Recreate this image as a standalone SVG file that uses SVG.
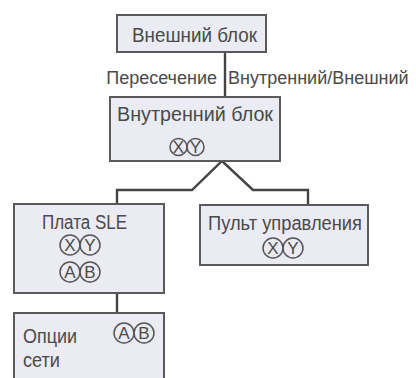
<svg xmlns="http://www.w3.org/2000/svg" width="416" height="378" viewBox="0 0 416 378">
<style>
.box{fill:#ebebf3;stroke:#5a5a5a;stroke-width:2}
.t{font-family:"Liberation Sans",Arial,sans-serif;font-size:20px;fill:#4a4a4a}
.lbl{font-family:"Liberation Sans",Arial,sans-serif;font-size:18px;fill:#4a4a4a}
.c{fill:none;stroke:#555;stroke-width:1.5}
.cl{font-family:"Liberation Sans",Arial,sans-serif;font-size:17px;fill:#4a4a4a;text-anchor:middle}
.conn{fill:none;stroke:#444;stroke-width:2.4}
</style>
<rect width="416" height="378" fill="#fff"/>
<g id="connectors">
<path class="conn" d="M225,52 V97"/>
<path class="conn" d="M117,204 V190 H192 L222,161 L253,190 H308 V205"/>
<path class="conn" d="M117,293 V313"/>
</g>
<text class="lbl"><tspan x="222" y="84" text-anchor="end">Пересечение</tspan> <tspan x="228" y="84">Внутренний/Внешний</tspan></text>
<g id="outer">
<rect class="box" x="117" y="15" width="149" height="37"/>
<text class="t" x="132" y="42" textLength="125" lengthAdjust="spacingAndGlyphs">Внешний блок</text>
</g>
<g id="inner">
<rect class="box" x="110" y="97" width="170" height="64"/>
<text class="t" x="117" y="121" textLength="156" lengthAdjust="spacingAndGlyphs">Внутренний блок</text>
<circle class="c" cx="178.5" cy="147" r="8.5"/><text class="cl" x="178.5" y="153">X</text>
<circle class="c" cx="195.5" cy="147" r="8.5"/><text class="cl" x="195.5" y="153">Y</text>
</g>
<g id="sle">
<rect class="box" x="14" y="204" width="150" height="89"/>
<text class="t" x="42" y="229" textLength="85" lengthAdjust="spacingAndGlyphs">Плата SLE</text>
<circle class="c" cx="70" cy="245" r="10"/><text class="cl" x="70" y="251">X</text>
<circle class="c" cx="90" cy="245" r="10"/><text class="cl" x="90" y="251">Y</text>
<circle class="c" cx="70" cy="272" r="10"/><text class="cl" x="70" y="278">A</text>
<circle class="c" cx="90" cy="272" r="10"/><text class="cl" x="90" y="278">B</text>
</g>
<g id="panel">
<rect class="box" x="200" y="205" width="168" height="60"/>
<text class="t" x="208" y="230" textLength="154" lengthAdjust="spacingAndGlyphs">Пульт управления</text>
<circle class="c" cx="273" cy="248" r="10"/><text class="cl" x="273" y="254">X</text>
<circle class="c" cx="293" cy="248" r="10"/><text class="cl" x="293" y="254">Y</text>
</g>
<g id="network">
<rect class="box" x="14" y="313" width="150" height="80"/>
<text class="t" x="23" y="343" textLength="54" lengthAdjust="spacingAndGlyphs">Опции</text>
<text class="t" x="23" y="367" textLength="37" lengthAdjust="spacingAndGlyphs">сети</text>
<circle class="c" cx="124" cy="333" r="10"/><text class="cl" x="124" y="339">A</text>
<circle class="c" cx="144" cy="333" r="10"/><text class="cl" x="144" y="339">B</text>
</g>
</svg>
